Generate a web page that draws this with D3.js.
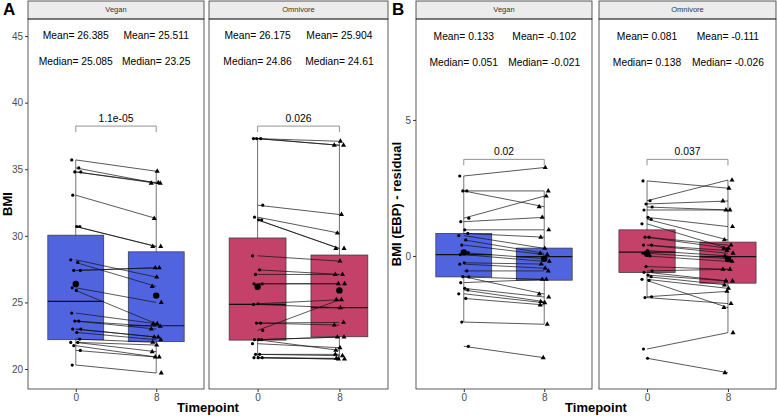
<!DOCTYPE html>
<html>
<head>
<meta charset="utf-8">
<script src="https://cdn.jsdelivr.net/npm/d3@7"></script>
<style>
  body { margin: 0; background: #fff; }
  text { font-family: "Liberation Sans", Arial, sans-serif; }
</style>
</head>
<body>
<div class="chart"></div>
<script>
// ---- data ----
const groups = ["Vegan", "Omnivore"];
const timepoints = [0, 8];

// A: BMI, paired values (week 0 -> week 8)
const bmiVeganPre  = [35.7, 35.1, 34.8, 34.8, 33.05, 30.7, 30.7, 28.2, 28.0, 27.4, 27.4, 26.1, 25.9, 24.2, 23.6, 23.6, 23.0, 23.0, 22.75, 22.25, 22.0, 22.0, 21.75, 21.4, 20.3];
const bmiVeganPost = [34.85, 33.95, 33.95, 34.0, 31.3, 29.2, 29.2, 26.9, 26.2, 27.6, 27.6, 25.0, 23.4, 23.4, 23.2, 23.0, 22.4, 22.4, 22.2, 22.0, 21.8, 21.3, 20.9, 20.9, 19.7];
const bmiOmniPre   = [37.3, 37.3, 37.3, 32.3, 31.4, 31.2, 31.2, 28.5, 27.45, 27.1, 26.4, 26.4, 24.9, 24.85, 23.45, 23.45, 22.9, 22.2, 22.2, 22.2, 21.9, 21.1, 21.1, 20.85, 20.85, 20.85];
const bmiOmniPost  = [37.1, 36.8, 36.8, 31.6, 30.2, 29.05, 29.05, 28.1, 27.1, 27.1, 26.4, 26.4, 25.2, 24.6, 23.5, 23.3, 25.2, 22.4, 22.4, 21.4, 21.6, 21.1, 21.0, 20.75, 20.75, 20.8];

// B: BMI (EBP) residual, paired values
const resVeganPre  = [2.94, 2.39, 2.39, 1.39, 1.26, 0.96, 0.83, 0.75, 0.59, 0.4, 0.12, 0.05, -0.25, -0.3, -0.55, -0.76, -0.77, -0.98, -1.19, -1.25, -1.39, -1.56, -2.43, -3.32];
const resVeganPost = [3.25, 2.39, 1.81, 2.2, 1.42, 0.96, 0.69, 0.28, 0.1, 0.05, -0.1, -0.2, -0.3, -0.45, -0.55, -1.4, -0.86, -0.86, -1.51, -1.68, -1.72, -1.8, -2.51, -3.74];
const resOmniPre   = [2.76, 2.03, 1.91, 1.8, 1.69, 1.42, 1.35, 1.18, 0.69, 0.69, 0.4, 0.4, 0.2, 0.1, 0.0, -0.39, -0.55, -0.6, -0.7, -0.76, -0.86, -0.9, -1.53, -1.5, -3.42, -3.76];
const resOmniPost  = [2.49, 2.79, 2.02, 1.69, 1.69, 1.08, 0.59, 0.28, 0.28, 0.4, 0.2, 0.1, 0.0, -0.1, -0.2, -0.49, -0.49, -0.92, -0.92, -1.07, -1.19, -1.9, -1.75, -1.3, -2.82, -4.29];

// box stats per timepoint: [lower whisker, q1, median, q3, upper whisker]
const bmiVeganBox = [[20.3, 22.2, 25.085, 30.05, 35.7], [19.7, 22.05, 23.25, 28.8, 34.85]];
const bmiOmniBox  = [[20.85, 22.17, 24.86, 29.84, 37.3], [20.75, 22.42, 24.61, 28.56, 37.1]];
const resVeganBox = [[-2.43, -0.77, 0.051, 0.83, 2.94], [-2.51, -0.89, -0.021, 0.29, 2.39]];
const resOmniBox  = [[-1.53, -0.61, 0.138, 0.96, 2.76], [-2.82, -1.0, -0.026, 0.51, 2.79]];

const bmiVeganMean = [26.385, 25.511];
const bmiOmniMean  = [26.175, 25.904];
const resVeganMean = [0.133, -0.102];
const resOmniMean  = [0.081, -0.111];

const bmiP = ["1.1e-05", "0.026"];
const resP = ["0.02", "0.037"];

const bmiTicks = [20, 25, 30, 35, 40, 45];
const resTicks = [0, 5];

// small fixed horizontal offsets for the point cloud (x units)
const jitter = [-0.4, 0.3, -0.1, 0.5, -0.3, 0.1, 0.4, -0.5, 0.2, -0.2, 0.45, -0.35, 0.05];

// ---- layout ----
const W = 777, H = 416;
const plotTop = 19, plotBottom = 389, stripTop = 1;
const fill = { Vegan: "#5164e0", Omnivore: "#c4416a" };
const labelSize = 10.3;

const svg = d3.select(".chart").append("svg")
    .attr("width", W)
    .attr("height", H);

const figures = [
  { label: "A", title: "BMI", domain: [18.5, 46.28], ticks: bmiTicks, p: bmiP,
    meanY: 45, medY: 43, bracketY: 38.24, titleX: 9, letterX: 3,
    panels: [
      { x0: 28, x1: 204, pre: bmiVeganPre, post: bmiVeganPost, box: bmiVeganBox, mean: bmiVeganMean },
      { x0: 209, x1: 388, pre: bmiOmniPre, post: bmiOmniPost, box: bmiOmniBox, mean: bmiOmniMean }
    ] },
  { label: "B", title: "BMI (EBP) - residual", domain: [-4.89, 8.71], ticks: resTicks, p: resP,
    meanY: 8.05, medY: 7.1, bracketY: 3.55, titleX: 398, letterX: 392,
    panels: [
      { x0: 416, x1: 592, pre: resVeganPre, post: resVeganPost, box: resVeganBox, mean: resVeganMean },
      { x0: 599, x1: 776, pre: resOmniPre, post: resOmniPost, box: resOmniBox, mean: resOmniMean }
    ] }
];

const halfBox = 2.78;

figures.forEach(fig => {
  const y = d3.scaleLinear().domain(fig.domain).range([plotBottom, plotTop]);

  fig.panels.forEach((pan, pi) => {
    const group = groups[pi];
    const x = d3.scaleLinear().domain([-4.75, 12.75]).range([pan.x0, pan.x1]);
    const g = svg.append("g");

    // strip
    g.append("rect")
      .attr("x", pan.x0).attr("y", stripTop)
      .attr("width", pan.x1 - pan.x0).attr("height", plotTop - stripTop)
      .attr("fill", "#ececec").attr("stroke", "#333").attr("stroke-width", 0.8);
    g.append("text")
      .attr("x", (pan.x0 + pan.x1) / 2).attr("y", (stripTop + plotTop) / 2 + 0.5)
      .attr("text-anchor", "middle").attr("dominant-baseline", "middle")
      .attr("font-size", 7.5).attr("fill", "#333")
      .text(group);

    // boxes + whiskers
    timepoints.forEach((t, ti) => {
      const b = pan.box[ti];
      g.append("line")
        .attr("x1", x(t)).attr("x2", x(t))
        .attr("y1", y(b[0])).attr("y2", y(b[4]))
        .attr("stroke", "#333").attr("stroke-width", 0.7);
      g.append("rect")
        .attr("x", x(t - halfBox)).attr("y", y(b[3]))
        .attr("width", x(t + halfBox) - x(t - halfBox))
        .attr("height", y(b[1]) - y(b[3]))
        .attr("fill", fill[group]).attr("stroke", "#333").attr("stroke-width", 0.7);
      g.append("line")
        .attr("x1", x(t - halfBox)).attr("x2", x(t + halfBox))
        .attr("y1", y(b[2])).attr("y2", y(b[2]))
        .attr("stroke", "#111").attr("stroke-width", 1.2);
    });

    // paired lines
    const pairs = pan.pre.map((v, i) => ({ pre: v, post: pan.post[i], i: i }));
    g.selectAll(".pair").data(pairs).join("line")
      .attr("class", "pair")
      .attr("x1", x(0)).attr("x2", x(8))
      .attr("y1", d => y(d.pre)).attr("y2", d => y(d.post))
      .attr("stroke", "#111").attr("stroke-width", 0.7);

    // points
    g.selectAll(".pre").data(pairs).join("circle")
      .attr("class", "pre")
      .attr("cx", d => x(0 + jitter[d.i % jitter.length]))
      .attr("cy", d => y(d.pre))
      .attr("r", 1.6).attr("fill", "#000");
    g.selectAll(".post").data(pairs).join("path")
      .attr("class", "post")
      .attr("d", d3.symbol(d3.symbolTriangle).size(11))
      .attr("transform", d => `translate(${x(8 + jitter[(d.i + 5) % jitter.length])},${y(d.post)})`)
      .attr("fill", "#000");

    // mean markers
    g.selectAll(".mean").data(pan.mean).join("circle")
      .attr("class", "mean")
      .attr("cx", (d, i) => x(timepoints[i]))
      .attr("cy", d => y(d))
      .attr("r", 3.2).attr("fill", "#000");

    // mean / median labels
    timepoints.forEach((t, ti) => {
      g.append("text")
        .attr("x", x(t)).attr("y", y(fig.meanY))
        .attr("text-anchor", "middle").attr("dominant-baseline", "middle")
        .attr("font-size", labelSize).attr("fill", "#000")
        .text("Mean= " + pan.mean[ti]);
      g.append("text")
        .attr("x", x(t)).attr("y", y(fig.medY))
        .attr("text-anchor", "middle").attr("dominant-baseline", "middle")
        .attr("font-size", labelSize).attr("fill", "#000")
        .text("Median= " + pan.box[ti][2]);
    });

    // significance bracket
    const by = y(fig.bracketY);
    g.append("path")
      .attr("d", `M${x(0)},${by + 6}V${by}H${x(8)}V${by + 6}`)
      .attr("fill", "none").attr("stroke", "#777").attr("stroke-width", 0.8);
    g.append("text")
      .attr("x", x(4)).attr("y", by - 4)
      .attr("text-anchor", "middle")
      .attr("font-size", labelSize).attr("fill", "#000")
      .text(fig.p[pi]);

    // panel border
    g.append("rect")
      .attr("x", pan.x0).attr("y", plotTop)
      .attr("width", pan.x1 - pan.x0).attr("height", plotBottom - plotTop)
      .attr("fill", "none").attr("stroke", "#333").attr("stroke-width", 0.8);

    // x axis
    const xAxis = svg.append("g")
      .attr("transform", `translate(0,${plotBottom})`)
      .call(d3.axisBottom(x).tickValues(timepoints).tickSize(3).tickPadding(2));
    xAxis.select(".domain").remove();
    xAxis.selectAll("line").attr("stroke", "#333");
    xAxis.selectAll("text").attr("font-size", 10).attr("fill", "#4d4d4d")
      .attr("font-family", "Liberation Sans, Arial, sans-serif");

    // y axis on first panel only
    if (pi === 0) {
      const yAxis = svg.append("g")
        .attr("transform", `translate(${pan.x0},0)`)
        .call(d3.axisLeft(y).tickValues(fig.ticks).tickSize(3).tickPadding(2));
      yAxis.select(".domain").remove();
      yAxis.selectAll("line").attr("stroke", "#333");
      yAxis.selectAll("text").attr("font-size", 10).attr("fill", "#4d4d4d")
        .attr("font-family", "Liberation Sans, Arial, sans-serif");
    }
  });

  // axis titles and figure letter
  const midX = (fig.panels[0].x0 + fig.panels[1].x1) / 2;
  svg.append("text")
    .attr("x", midX).attr("y", 412)
    .attr("text-anchor", "middle")
    .attr("font-size", 13).attr("font-weight", 700)
    .text("Timepoint");
  svg.append("text")
    .attr("transform", `translate(${fig.titleX},${(plotTop + plotBottom) / 2}) rotate(-90)`)
    .attr("text-anchor", "middle").attr("dominant-baseline", "middle")
    .attr("font-size", 13).attr("font-weight", 700)
    .text(fig.title);
  svg.append("text")
    .attr("x", fig.letterX).attr("y", 15)
    .attr("font-size", 17).attr("font-weight", 700)
    .text(fig.label);
});
</script>
</body>
</html>
